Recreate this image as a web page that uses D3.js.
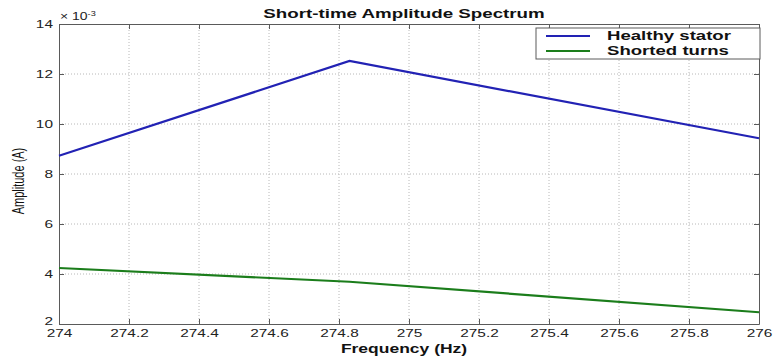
<!DOCTYPE html>
<html>
<head>
<meta charset="utf-8">
<script src="https://cdn.jsdelivr.net/npm/d3@7"></script>
<style>
  body { margin: 0; background: #fff; }
  svg { display: block; font-family: "Liberation Sans", Arial, sans-serif; }
</style>
</head>
<body>
<svg id="chart" width="775" height="361"></svg>
<script>
  // Data (amplitudes in A)
  var FREQ = [274, 274.83, 276]
  var HEALTHY = [0.00873, 0.01252, 0.00943]
  var SHORTED = [0.00424, 0.00369, 0.00247]
  var X_TICKS = [274, 274.2, 274.4, 274.6, 274.8, 275, 275.2, 275.4, 275.6, 275.8, 276]
  var Y_TICKS = [0.002, 0.004, 0.006, 0.008, 0.010, 0.012, 0.014]
  var SERIES = [
    { name: 'Healthy stator', values: HEALTHY, color: '#2222b4' },
    { name: 'Shorted turns', values: SHORTED, color: '#1b7d1b' }
  ]

  // the original figure is stretched sideways, so the text is too
  var STRETCH = 1.4

  var margin = { top: 24, right: 16, bottom: 37, left: 59 }
  var width = 775 - margin.left - margin.right
  var height = 361 - margin.top - margin.bottom

  var svg = d3.select('#chart')
  var g = svg.append('g')
    .attr('transform', 'translate(' + margin.left + ',' + margin.top + ')')

  var x = d3.scaleLinear().domain([274, 276]).range([0, width])
  var y = d3.scaleLinear().domain([0.002, 0.014]).range([height, 0])

  // Grid
  g.append('g').selectAll('line')
    .data(X_TICKS.slice(1, -1))
    .enter().append('line')
    .attr('x1', function (d) { return x(d) }).attr('x2', function (d) { return x(d) })
    .attr('y1', 0).attr('y2', height)
    .attr('stroke', '#b8b8b8').attr('stroke-dasharray', '1,2')
  g.append('g').selectAll('line')
    .data(Y_TICKS.slice(1, -1))
    .enter().append('line')
    .attr('y1', function (d) { return y(d) }).attr('y2', function (d) { return y(d) })
    .attr('x1', 0).attr('x2', width)
    .attr('stroke', '#b8b8b8').attr('stroke-dasharray', '1,2')

  // Axes
  var fmtY = function (d) { return Math.round(d * 1000) }
  var fmtX = function (d) { return String(+d.toFixed(1)) }

  var xAxis = g.append('g').attr('transform', 'translate(0,' + height + ')')
    .call(d3.axisBottom(x).tickValues(X_TICKS).tickFormat(fmtX).tickSizeInner(-5).tickSizeOuter(0).tickPadding(5))
  var xTop = g.append('g')
    .call(d3.axisTop(x).tickValues(X_TICKS).tickFormat('').tickSizeInner(-5).tickSizeOuter(0))
  var yAxis = g.append('g')
    .call(d3.axisLeft(y).tickValues(Y_TICKS).tickFormat(fmtY).tickSizeInner(-5).tickSizeOuter(0))
  var yRight = g.append('g').attr('transform', 'translate(' + width + ',0)')
    .call(d3.axisRight(y).tickValues(Y_TICKS).tickFormat('').tickSizeInner(-5).tickSizeOuter(0))

  ;[xAxis, xTop, yAxis, yRight].forEach(function (a) {
    a.selectAll('path, line').attr('stroke', '#5a5a5a')
    a.selectAll('text').attr('fill', '#222')
      .style('font-family', '"Liberation Sans", Arial, sans-serif').style('font-size', '11px')
  })
  xAxis.selectAll('.tick text')
    .attr('transform', 'scale(' + STRETCH + ',1)')
  // "2" sits just above the 274 label in the reference
  yAxis.selectAll('.tick text')
    .attr('x', 0)
    .attr('dy', function (d) { return d === 0.002 ? '0.05em' : '0.32em' })
    .attr('transform', 'translate(-6,0) scale(' + STRETCH + ',1)')

  // Lines
  var line = d3.line()
    .x(function (d, i) { return x(FREQ[i]) })
    .y(function (d) { return y(d) })

  g.selectAll('.series')
    .data(SERIES)
    .enter().append('path')
    .attr('class', 'series')
    .attr('d', function (d) { return line(d.values) })
    .attr('fill', 'none')
    .attr('stroke', function (d) { return d.color })
    .attr('stroke-width', 2.2)

  // Legend
  var lgW = 224
  var lg = g.append('g').attr('transform', 'translate(' + (width + 1 - lgW) + ',4)')
  lg.append('rect')
    .attr('width', lgW).attr('height', 31)
    .attr('fill', '#fff').attr('stroke', '#5a5a5a')
  var rows = lg.selectAll('.row').data(SERIES).enter().append('g')
    .attr('transform', function (d, i) { return 'translate(0,' + (8 + i * 15) + ')' })
  rows.append('line')
    .attr('x1', 10).attr('x2', 54)
    .attr('stroke', function (d) { return d.color }).attr('stroke-width', 2)
  rows.append('text')
    .attr('transform', 'translate(71,0) scale(1.55,1)')
    .attr('dy', '0.36em')
    .attr('font-size', 12).attr('font-weight', 'bold').attr('fill', '#111')
    .text(function (d) { return d.name })

  // Title and labels
  svg.append('text')
    .attr('transform', 'translate(404,18) scale(1.5,1)')
    .attr('text-anchor', 'middle').attr('font-size', 12.5).attr('font-weight', 'bold')
    .attr('fill', '#111')
    .text('Short-time Amplitude Spectrum')

  svg.append('text')
    .attr('transform', 'translate(404,353) scale(1.4,1)')
    .attr('text-anchor', 'middle').attr('font-size', 12.5).attr('font-weight', 'bold')
    .attr('fill', '#111')
    .text('Frequency (Hz)')

  svg.append('text')
    .attr('transform', 'translate(24,181) rotate(-90) scale(1,1.55)')
    .attr('text-anchor', 'middle').attr('font-size', 11)
    .attr('fill', '#111')
    .text('Amplitude (A)')

  var exp = svg.append('text')
    .attr('transform', 'translate(60,20) scale(' + STRETCH + ',1)')
    .attr('font-size', 10).attr('fill', '#222')
  exp.append('tspan').text('\u00d7 10')
  exp.append('tspan').attr('dy', -4).attr('font-size', 6.5).text('-3')
</script>
</body>
</html>
